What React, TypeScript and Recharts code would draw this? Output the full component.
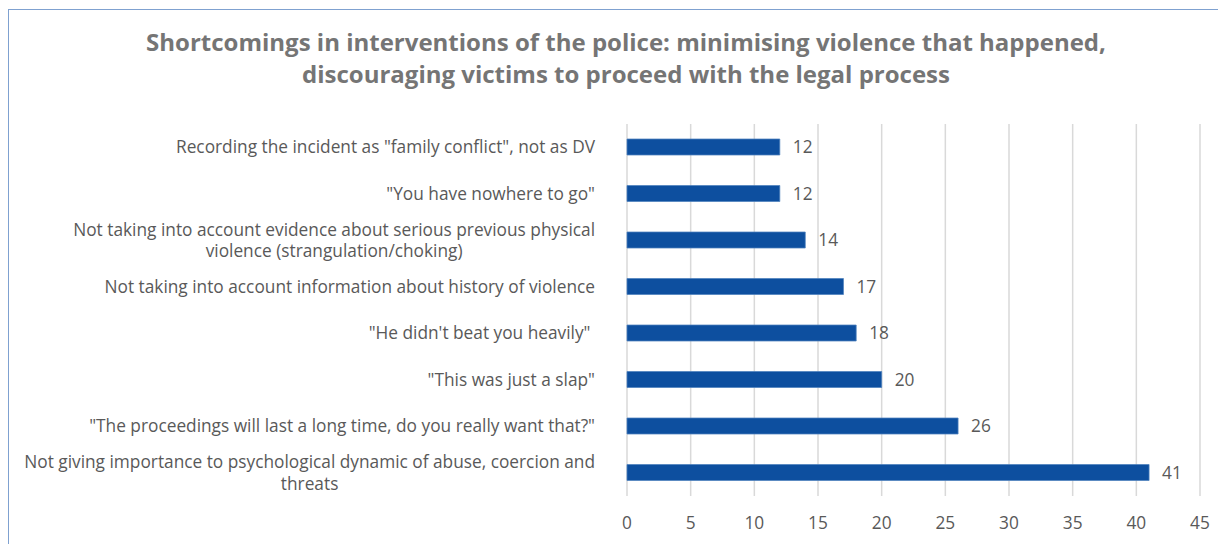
import React from 'react';
import { BarChart, Bar, XAxis, YAxis, CartesianGrid, LabelList } from 'recharts';

const categories = [
  'Recording the incident as "family conflict", not as DV',
  '"You have nowhere to go"',
  'Not taking into account evidence about serious previous physical\nviolence (strangulation/choking)',
  'Not taking into account information about history of violence',
  '"He didn\'t beat you heavily" ',
  '"This was just a slap"',
  '"The proceedings will last a long time, do you really want that?"',
  'Not giving importance to psychological dynamic of abuse, coercion and\nthreats',
];
const values = [12, 12, 14, 17, 18, 20, 26, 41];
const xTicks = [0, 5, 10, 15, 20, 25, 30, 35, 40, 45];

const titleLines = [
  'Shortcomings in interventions of the police: minimising violence that happened,',
  'discouraging victims to proceed with the legal process',
];

const data = categories.map((name, i) => ({ name, value: values[i] }));

const FONT = '"Open Sans", sans-serif';
const LABEL_SIZE = 17.3;
const TEXT_GRAY = '#595959';

let ctx: CanvasRenderingContext2D | null = null;
const measure = (s: string) => {
  if (!ctx) ctx = document.createElement('canvas').getContext('2d');
  if (!ctx) return s.length * 8;
  ctx.font = `${LABEL_SIZE}px "Open Sans"`;
  return ctx.measureText(s).width;
};

const CategoryTick = (props: any) => {
  const { x, y, payload } = props;
  const lines: string[] = String(payload.value).split('\n');
  const right = x - 24;
  const w = Math.max(...lines.map(measure));
  const cx = right - w / 2;
  const lh = 21.5;
  const y0 = y - ((lines.length - 1) * lh) / 2;
  return (
    <text x={cx} y={y0} textAnchor="middle" fill={TEXT_GRAY} fontSize={LABEL_SIZE} fontFamily={FONT}>
      {lines.map((l, i) => (
        <tspan key={i} x={cx} y={y0 + i * lh} dy="0.35em" style={{ whiteSpace: 'pre' }}>
          {l}
        </tspan>
      ))}
    </text>
  );
};

export default function App() {
  return (
    <div
      style={{
        position: 'relative',
        width: 1240,
        height: 545,
        marginTop: 1,
        borderLeft: '1.5px solid #7FA1D0',
        borderTop: '1.5px solid #7FA1D0',
        background: '#fff',
        fontFamily: FONT,
      }}
    >
      <div
        style={{
          position: 'absolute',
          left: 0,
          top: 16,
          width: 1234,
          textAlign: 'center',
          fontSize: 24,
          lineHeight: '32px',
          fontWeight: 700,
          color: '#757575',
        }}
      >
        {titleLines.map((t) => (
          <div key={t}>{t}</div>
        ))}
      </div>
      <div style={{ position: 'absolute', left: 0, top: 0 }}>
        <BarChart
          width={1217}
          height={535}
          data={data}
          layout="vertical"
          margin={{ top: 114, right: 26, bottom: 19, left: 0 }}
          barSize={16}
        >
          <CartesianGrid horizontal={false} stroke="#d9d9d9" strokeWidth={1.5} />
          <XAxis
            type="number"
            domain={[0, 45]}
            ticks={xTicks}
            interval={0}
            axisLine={false}
            tickLine={false}
            tickMargin={15}
            height={30}
            tick={{ fill: TEXT_GRAY, fontSize: LABEL_SIZE, fontFamily: FONT }}
          />
          <YAxis
            type="category"
            dataKey="name"
            width={618}
            axisLine={false}
            tickLine={false}
            interval={0}
            tick={<CategoryTick />}
          />
          <Bar dataKey="value" fill="#0D4F9F" stroke="#4F81BD" strokeWidth={0.75} isAnimationActive={false}>
            <LabelList
              dataKey="value"
              position="right"
              offset={13}
              fill={TEXT_GRAY}
              fontSize={LABEL_SIZE}
              fontFamily={FONT}
            />
          </Bar>
        </BarChart>
      </div>
    </div>
  );
}
